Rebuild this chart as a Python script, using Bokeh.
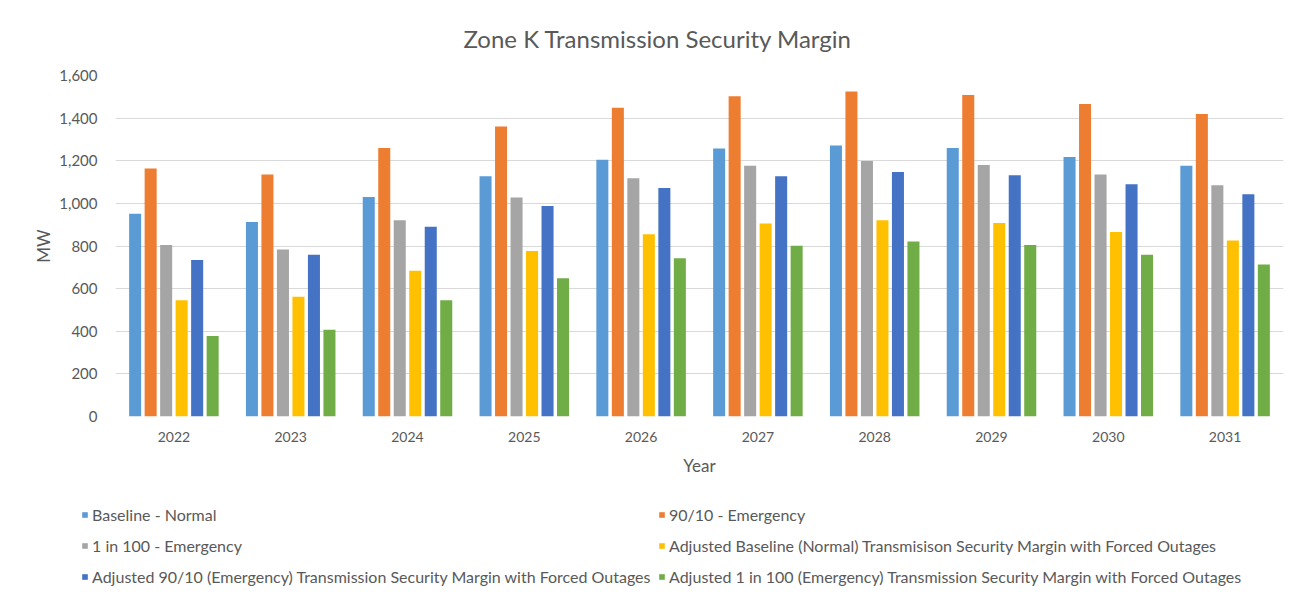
from bokeh.plotting import figure
from bokeh.models import (ColumnDataSource, FactorRange, Legend, LegendItem,
                          NumeralTickFormatter, SingleIntervalTicker, Range1d)
from bokeh.layouts import column
from bokeh.transform import dodge
from bokeh.embed import file_html
from bokeh.resources import INLINE

years = ["2022", "2023", "2024", "2025", "2026", "2027", "2028", "2029", "2030", "2031"]
baseline_normal = [951, 913, 1030, 1127, 1205, 1257, 1272, 1260, 1218, 1177]
emergency_90_10 = [1164, 1135, 1260, 1361, 1449, 1503, 1525, 1508, 1466, 1419]
emergency_1_in_100 = [805, 784, 921, 1027, 1118, 1177, 1199, 1180, 1135, 1085]
adj_baseline = [546, 562, 684, 776, 855, 905, 921, 908, 866, 826]
adj_90_10 = [734, 759, 890, 988, 1072, 1127, 1147, 1132, 1090, 1043]
adj_1_in_100 = [378, 407, 546, 649, 743, 801, 821, 805, 759, 713]

series_names = [
    "Baseline - Normal",
    "90/10 - Emergency",
    "1 in 100 - Emergency",
    "Adjusted Baseline (Normal) Transmisison Security Margin with Forced Outages",
    "Adjusted 90/10 (Emergency) Transmission Security Margin with Forced Outages",
    "Adjusted 1 in 100 (Emergency) Transmission Security Margin with Forced Outages",
]
series_keys = ["s0", "s1", "s2", "s3", "s4", "s5"]
series_values = [baseline_normal, emergency_90_10, emergency_1_in_100,
                 adj_baseline, adj_90_10, adj_1_in_100]
colors = ["#5B9BD5", "#ED7D31", "#A5A5A5", "#FFC000", "#4472C4", "#70AD47"]

data = {"year": years}
for k, v in zip(series_keys, series_values):
    data[k] = v
source = ColumnDataSource(data)

FONT = "Lato"
TXT = "#595959"

# ---- main chart ----
p = figure(width=1290, height=490, x_range=FactorRange(*years),
           y_range=Range1d(0, 1600), output_backend="svg", toolbar_location=None,
           min_border_left=115, min_border_right=7, min_border_top=75, min_border_bottom=74,
           title="Zone K Transmission Security Margin")
p.frame_align = False

step = 0.1327
bw = 0.103
for i, (k, c) in enumerate(zip(series_keys, colors)):
    p.vbar(x=dodge("year", (i - 2.5) * step, range=p.x_range), top=k, width=bw,
           source=source, color=c, line_color=None)

p.outline_line_color = None
p.background_fill_color = "white"
p.border_fill_color = "white"
p.xgrid.grid_line_color = None
p.ygrid.grid_line_color = "#D9D9D9"
p.ygrid.grid_line_width = 1

p.title.align = "left"
p.title.offset = 348
p.title.vertical_align = "middle"
p.title.standoff = 44
p.title.text_font = FONT
p.title.text_font_size = "24px"
p.title.text_font_style = "normal"
p.title.text_color = TXT

p.yaxis.ticker = SingleIntervalTicker(interval=200)
p.yaxis.formatter = NumeralTickFormatter(format="0,0")
for ax in (p.xaxis, p.yaxis):
    ax.axis_line_color = None
    ax.major_tick_line_color = None
    ax.minor_tick_line_color = None
    ax.major_label_text_color = TXT
    ax.major_label_text_font = FONT
    ax.major_label_text_font_size = "14px"
    ax.axis_label_text_color = TXT
    ax.axis_label_text_font = FONT
    ax.axis_label_text_font_size = "17px"
    ax.axis_label_text_font_style = "normal"

p.yaxis.axis_label = "MW"
p.yaxis.major_label_text_font_size = "15px"
p.yaxis.major_label_standoff = 12
p.yaxis.axis_label_standoff = 2
p.xaxis.axis_label = "Year"
p.xaxis.major_label_standoff = 9
p.xaxis.axis_label_standoff = 10

# ---- legend strip (proxy glyphs carrying no visible data) ----
lg = figure(width=1290, height=105, x_range=Range1d(0, 1), y_range=Range1d(0, 1),
            output_backend="svg", toolbar_location=None,
            x_axis_location=None, y_axis_location=None,
            min_border_left=0, min_border_right=0, min_border_top=0, min_border_bottom=0)
lg.frame_align = False
lg.grid.visible = False
lg.outline_line_color = None
lg.border_fill_color = "white"
lg.background_fill_color = "white"

nan = float("nan")
proxies = []
for c in colors:
    proxies.append(lg.vbar(x=[nan], top=[nan], width=0.1, color=c, line_color=None))

def make_legend(idx, loc):
    return Legend(items=[LegendItem(label=series_names[j], renderers=[proxies[j]]) for j in idx],
                  location=loc, orientation="vertical",
                  label_text_font=FONT, label_text_font_size="16px", label_text_color=TXT,
                  glyph_width=7, glyph_height=7, label_standoff=4, label_height=20,
                  spacing=11, padding=0, margin=0,
                  border_line_color=None, background_fill_alpha=0)

lg.add_layout(make_legend([0, 2, 4], (81, 9)), "center")
lg.add_layout(make_legend([1, 3, 5], (658, 9)), "center")

layout = column(p, lg, spacing=0)
open("out.html", "w").write(file_html(layout, INLINE))
